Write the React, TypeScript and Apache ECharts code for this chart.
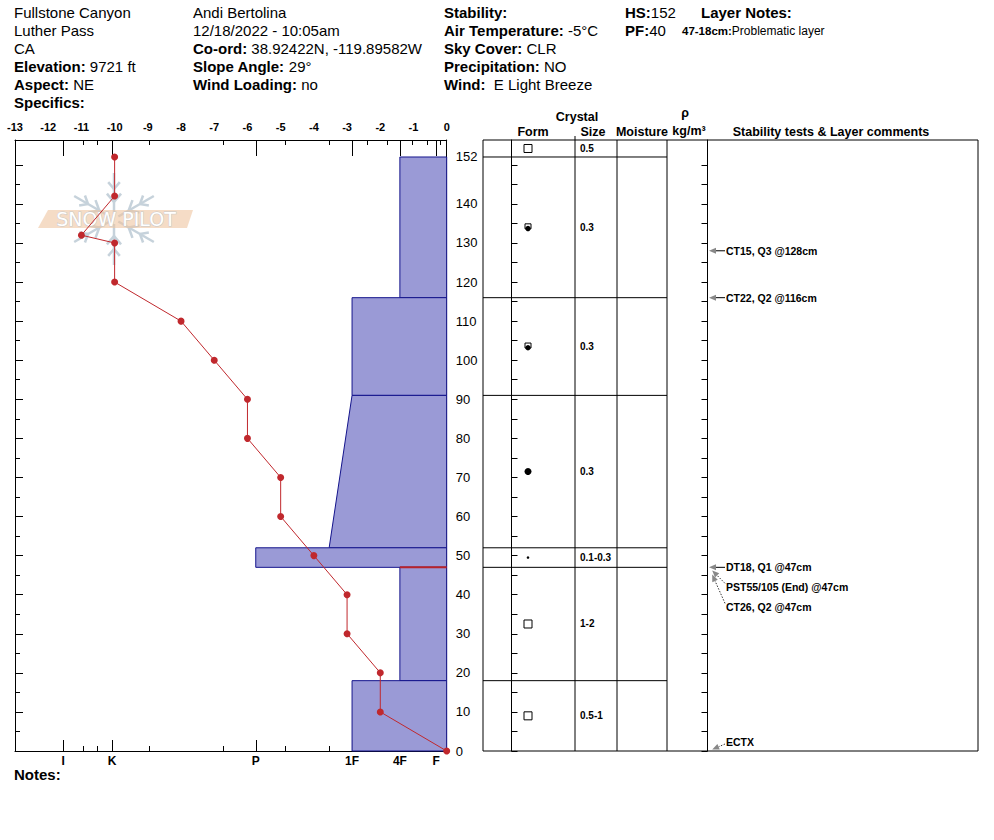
import React, { useEffect, useRef } from 'react';
import * as echarts from 'echarts';

// ---------------- data ----------------
const tempDepths = [152, 142, 132, 130, 120, 110, 100, 90, 80, 70, 60, 50, 40, 30, 20, 10, 0];
const tempValues = [-10, -10, -11, -10, -10, -8, -7, -6, -6, -5, -5, -4, -3, -3, -2, -2, 0];

const hardnessCodes = ['F-', 'F', 'F+', '4F-', '4F', '4F+', '1F-', '1F', '1F+', 'P-', 'P', 'P+', 'K-', 'K', 'K+', 'I-', 'I'];
const hardnessPositions = [-0.2, -0.32, -0.59, -1.04, -1.41, -1.8, -2.4, -2.85, -3.54, -4.85, -5.75, -6.74, -8.96, -10.08, -10.53, -10.95, -11.55];
const hardnessLabels = ['I', 'K', 'P', '1F', '4F', 'F'];

const layerTops = [152, 116, 91, 52, 47, 18];
const layerBottoms = [116, 91, 52, 47, 18, 0];
const layerHardTop = ['4F', '1F', '1F', 'P', '4F', '1F'];
const layerHardBottom = ['4F', '1F', '1F+', 'P', '4F', '1F'];
const layerForms = ['RGxf', 'RGxf', 'RG', 'dot', 'FC', 'FC'];
const layerSizes = ['0.3', '0.3', '0.3', '0.1-0.3', '1-2', '0.5-1'];
const surfaceForm = 'FC';
const surfaceSize = '0.5';
const problemLayerTop = 47;

const testDepths = [128, 116, 47, 47, 47, 0];
const testLabels = ['CT15, Q3 @128cm', 'CT22, Q2 @116cm', 'DT18, Q1 @47cm', 'PST55/105 (End) @47cm', 'CT26, Q2 @47cm', 'ECTX'];

const depthLabelValues = [0, 10, 20, 30, 40, 50, 60, 70, 80, 90, 100, 110, 120, 130, 140, 152];
const depthTickTens = [0, 10, 20, 30, 40, 50, 60, 70, 80, 90, 100, 110, 120, 130, 140, 150];
const depthTickFives = [0, 5, 10, 15, 20, 25, 30, 35, 40, 45, 50, 55, 60, 65, 70, 75, 80, 85, 90, 95, 100, 105, 110, 115, 120, 125, 130, 135, 140, 145, 150];
const HS = 152;

// ---------------- layout ----------------
const F = 'Arial, "Liberation Sans", Helvetica, sans-serif';
const YMAX = 156.35;
const PX_PER_CM = 611 / YMAX;
const TABLE_W = 495;

const hp = (code: string) => hardnessPositions[hardnessCodes.indexOf(code)];
const longTicks = hardnessLabels.map(hp);
const shortTicks = hardnessPositions.filter((v) => longTicks.indexOf(v) < 0);

function buildOption() {
  const hdr = (x: number, y: number, text: string, size = 15) => ({
    type: 'text',
    x,
    y,
    z: 5,
    style: {
      text,
      fill: '#000',
      fontSize: size,
      fontFamily: F,
      verticalAlign: 'middle',
      align: 'left',
      rich: {
        b: { fontSize: size, fontFamily: F, fontWeight: 'bold', fill: '#000' },
        s: { fontSize: 11.5, fontFamily: F, fontWeight: 'bold', fill: '#000' },
        t: { fontSize: 12, fontFamily: F, fill: '#000' },
      },
    },
  });
  const th = (x: number, y: number, text: string) => ({
    type: 'text',
    x,
    y,
    z: 5,
    style: { text, fill: '#000', fontSize: 12.5, fontWeight: 'bold', fontFamily: F, align: 'center', verticalAlign: 'middle' },
  });

  const col1 = ['Fullstone Canyon', 'Luther Pass', 'CA', '{b|Elevation:} 9721 ft', '{b|Aspect:} NE', '{b|Specifics:}'];
  const col2 = ['Andi Bertolina', '12/18/2022 - 10:05am', '{b|Co-ord:} 38.92422N, -119.89582W', '{b|Slope Angle:} 29°', '{b|Wind Loading:} no'];
  const col3 = ['{b|Stability:}', '{b|Air Temperature:} -5°C', '{b|Sky Cover:} CLR', '{b|Precipitation:} NO', '{b|Wind:}  E Light Breeze'];
  const headerEls: any[] = [];
  col1.forEach((t, i) => headerEls.push(hdr(14, 12.5 + 18 * i, t)));
  col2.forEach((t, i) => headerEls.push(hdr(193, 12.5 + 18 * i, t)));
  col3.forEach((t, i) => headerEls.push(hdr(444, 12.5 + 18 * i, t)));
  headerEls.push(hdr(625, 12.5, '{b|HS:}' + HS));
  headerEls.push(hdr(625, 30.5, '{b|PF:}40'));
  headerEls.push(hdr(701, 12.5, '{b|Layer Notes:}'));
  headerEls.push(hdr(682, 30.5, '{s|47-18cm:}{t|Problematic layer}'));
  headerEls.push(hdr(14, 774, '{b|Notes:}'));

  headerEls.push(th(577, 117, 'Crystal'));
  headerEls.push(th(533, 132, 'Form'));
  headerEls.push(th(593, 132, 'Size'));
  headerEls.push(th(642, 132, 'Moisture'));
  headerEls.push(th(685, 113, 'ρ'));
  headerEls.push(th(689, 131, 'kg/m³'));
  headerEls.push(th(831, 132, 'Stability tests & Layer comments'));

  // Snow Pilot logo
  const cx = 114, cy = 219;
  const flake: any[] = [];
  const flakeStyle = { stroke: '#c6d2db', lineWidth: 2.5 };
  [90, 30, -30, -90, 150, 210].forEach((a) => {
    const r = (a * Math.PI) / 180;
    const dx = Math.cos(r), dy = -Math.sin(r);
    flake.push({ type: 'line', z: 0, shape: { x1: cx + dx * 5, y1: cy + dy * 5, x2: cx + dx * 46, y2: cy + dy * 46 }, style: flakeStyle });
    [[17, 11], [30, 9]].forEach(([d, len]) => {
      [40, -40].forEach((b) => {
        const rb = ((a + b) * Math.PI) / 180;
        const px = cx + dx * d, py = cy + dy * d;
        flake.push({ type: 'line', z: 0, shape: { x1: px, y1: py, x2: px + Math.cos(rb) * len, y2: py - Math.sin(rb) * len }, style: flakeStyle });
      });
    });
  });
  const logo = [
    ...flake,
    { type: 'polygon', z: 0, shape: { points: [[48, 210], [193, 210], [187, 228], [38, 228]] }, style: { fill: 'rgba(238,196,160,0.6)' } },
    {
      type: 'text', z: 0, x: 116, y: 219,
      style: { text: 'SNOW PILOT', fontSize: 19, fontFamily: 'DejaVu Sans', fill: '#ffffff', stroke: '#c8c8c8', lineWidth: 1, align: 'center', verticalAlign: 'middle' },
    },
  ];

  const probIdx = layerTops.indexOf(problemLayerTop);

  // comment label stacking (in depth units)
  const gap = 20 / PX_PER_CM;
  let prev = Infinity;
  const labelDepths = testDepths.map((d) => {
    const l = Math.max(Math.min(d, prev - gap), 9 / PX_PER_CM);
    prev = l;
    return l;
  });

  const black = { color: '#000', width: 1 };
  const axisBase = { type: 'value', min: -13, max: 0, splitLine: { show: false } };
  const yBase = { type: 'value', min: 0, max: YMAX, splitLine: { show: false } };
  const lineOn = { show: true, onZero: false, lineStyle: black };
  const lineOff = { show: false, onZero: false };

  return {
    animation: false,
    backgroundColor: '#fff',
    graphic: { elements: [...logo, ...headerEls] },
    grid: [
      { left: 15, top: 140, width: 431.7, height: 611, show: false },
      { left: 483, top: 140, width: TABLE_W, height: 611, show: true, borderColor: '#000', borderWidth: 1, backgroundColor: 'transparent' },
    ],
    xAxis: [
      {
        ...axisBase, gridIndex: 0, position: 'top', interval: 1,
        axisLine: lineOn, axisTick: { show: false },
        axisLabel: { color: '#000', fontSize: 11, fontWeight: 'bold', fontFamily: F, margin: 8 },
      },
      {
        ...axisBase, gridIndex: 0, position: 'top',
        axisLine: lineOff, axisLabel: { show: false },
        axisTick: { show: true, inside: true, length: 16, customValues: longTicks, lineStyle: black },
      },
      {
        ...axisBase, gridIndex: 0, position: 'top',
        axisLine: lineOff, axisLabel: { show: false },
        axisTick: { show: true, inside: true, length: 5, customValues: shortTicks, lineStyle: black },
      },
      {
        ...axisBase, gridIndex: 0, position: 'bottom',
        axisLine: lineOn,
        axisTick: { show: true, inside: true, length: 11, customValues: longTicks, lineStyle: black },
        axisLabel: {
          customValues: longTicks, color: '#000', fontSize: 12, fontWeight: 'bold', fontFamily: F, margin: 4,
          formatter: (v: number) => {
            let best = 0;
            longTicks.forEach((t, i) => { if (Math.abs(t - v) < Math.abs(longTicks[best] - v)) best = i; });
            return hardnessLabels[best];
          },
        },
      },
      {
        ...axisBase, gridIndex: 0, position: 'bottom',
        axisLine: lineOff, axisLabel: { show: false },
        axisTick: { show: true, inside: true, length: 5, customValues: shortTicks, lineStyle: black },
      },
      { type: 'value', gridIndex: 1, min: 0, max: TABLE_W, show: false },
    ],
    yAxis: [
      {
        ...yBase, gridIndex: 0, position: 'left',
        axisLine: lineOn, axisLabel: { show: false },
        axisTick: { show: true, inside: true, length: 8, customValues: depthTickTens, lineStyle: black },
      },
      {
        ...yBase, gridIndex: 0, position: 'right',
        axisLine: lineOn,
        axisTick: { show: true, inside: true, length: 6, customValues: depthTickFives, lineStyle: black },
        axisLabel: { customValues: depthLabelValues, color: '#000', fontSize: 13, fontFamily: F, margin: 9 },
      },
      {
        ...yBase, gridIndex: 1, position: 'left', offset: -28.5,
        axisLine: lineOn, axisLabel: { show: false },
        axisTick: { show: true, inside: true, length: 6, customValues: depthTickFives, lineStyle: black },
      },
      {
        ...yBase, gridIndex: 1, position: 'right', offset: -270.5,
        axisLine: lineOn, axisLabel: { show: false },
        axisTick: { show: true, inside: true, length: 6, customValues: depthTickFives, lineStyle: black },
      },
      {
        ...yBase, gridIndex: 0, position: 'left',
        axisLine: lineOff, axisLabel: { show: false },
        axisTick: { show: true, inside: true, length: 5, customValues: depthTickFives, lineStyle: black },
      },
    ],
    series: [
      {
        type: 'custom', name: 'hardness', xAxisIndex: 0, yAxisIndex: 0, z: 1, silent: true,
        data: layerTops.map((t, i) => [hp(layerHardTop[i]), t, hp(layerHardBottom[i]), layerBottoms[i]]),
        encode: { x: [0, 2], y: [1, 3] },
        renderItem: (_p: any, api: any) => {
          const a = api.coord([0, api.value(1)]);
          const b = api.coord([api.value(0), api.value(1)]);
          const c = api.coord([api.value(2), api.value(3)]);
          const d = api.coord([0, api.value(3)]);
          return { type: 'polygon', shape: { points: [a, b, c, d] }, style: { fill: '#9a9ad6', stroke: '#14148c', lineWidth: 1 } };
        },
      },
      {
        type: 'line', name: 'problem', xAxisIndex: 0, yAxisIndex: 0, z: 2, silent: true, symbol: 'none',
        data: [[hp(layerHardTop[probIdx]), problemLayerTop], [0, problemLayerTop]],
        lineStyle: { color: '#b8232a', width: 2 },
      },
      {
        type: 'line', name: 'temperature', xAxisIndex: 0, yAxisIndex: 0, z: 3, silent: true,
        data: tempValues.map((t, i) => [t, tempDepths[i]]),
        symbol: 'circle', symbolSize: 7,
        lineStyle: { color: '#c0282d', width: 1 },
        itemStyle: { color: '#c0282d' },
      },
      {
        type: 'custom', name: 'rows', xAxisIndex: 5, yAxisIndex: 2, z: 2, silent: true,
        data: layerTops.map((t) => [0, t]),
        renderItem: (_p: any, api: any) => {
          const a = api.coord([0, api.value(1)]);
          const b = api.coord([184, api.value(1)]);
          return { type: 'line', shape: { x1: a[0], y1: a[1], x2: b[0], y2: b[1] }, style: { stroke: '#000', lineWidth: 1 } };
        },
      },
      {
        type: 'custom', name: 'cols', xAxisIndex: 5, yAxisIndex: 2, z: 2, silent: true,
        data: [[0, 0]],
        renderItem: (_p: any, api: any) => {
          const children = [92, 134, 184].map((x) => {
            const t = api.coord([x, YMAX]);
            const b = api.coord([x, 0]);
            return { type: 'line', shape: { x1: t[0], y1: t[1] - (x === 92 ? 4 : 0), x2: b[0], y2: b[1] }, style: { stroke: '#000', lineWidth: 1 } };
          });
          return { type: 'group', children };
        },
      },
      {
        type: 'custom', name: 'grains', xAxisIndex: 5, yAxisIndex: 2, z: 3, silent: true,
        data: [[45, (HS + YMAX) / 2, -1], ...layerTops.map((t, i) => [45, (t + layerBottoms[i]) / 2, i])],
        renderItem: (_p: any, api: any) => {
          const idx = api.value(2);
          const form = idx < 0 ? surfaceForm : layerForms[idx];
          const size = idx < 0 ? surfaceSize : layerSizes[idx];
          const p = api.coord([45, api.value(1)]);
          const s = api.coord([97, api.value(1)]);
          const children: any[] = [];
          if (form === 'FC') {
            children.push({ type: 'rect', shape: { x: p[0] - 4, y: p[1] - 4, width: 8, height: 8 }, style: { fill: '#fff', stroke: '#000', lineWidth: 1 } });
          } else if (form === 'RG') {
            children.push({ type: 'circle', shape: { cx: p[0], cy: p[1], r: 3.5 }, style: { fill: '#000' } });
          } else if (form === 'dot') {
            children.push({ type: 'circle', shape: { cx: p[0], cy: p[1], r: 1.3 }, style: { fill: '#000' } });
          } else {
            children.push({ type: 'rect', shape: { x: p[0] - 3, y: p[1] - 3.5, width: 6, height: 5 }, style: { fill: '#fff', stroke: '#000', lineWidth: 1 } });
            children.push({ type: 'circle', shape: { cx: p[0], cy: p[1] + 1.2, r: 2.7 }, style: { fill: '#000' } });
          }
          children.push({
            type: 'text', x: s[0], y: s[1],
            style: { text: size, fill: '#000', fontSize: 10, fontWeight: 'bold', fontFamily: F, align: 'left', verticalAlign: 'middle' },
          });
          return { type: 'group', children };
        },
      },
      {
        type: 'custom', name: 'tests', xAxisIndex: 5, yAxisIndex: 2, z: 3, silent: true,
        data: testDepths.map((d, i) => [226, d, labelDepths[i], i]),
        renderItem: (_p: any, api: any) => {
          const i = api.value(3);
          const tip = api.coord([226, api.value(1)]);
          const lab = api.coord([243, api.value(2)]);
          const children: any[] = [];
          children.push({
            type: 'text', x: lab[0], y: lab[1],
            style: { text: testLabels[i], fill: '#000', fontSize: 10.5, fontWeight: 'bold', fontFamily: F, align: 'left', verticalAlign: 'middle' },
          });
          let start: number[];
          let end: number[];
          let dash: any = null;
          if (Math.abs(lab[1] - tip[1]) < 1) {
            start = [lab[0] - 1, lab[1]];
            end = [tip[0], tip[1]];
          } else {
            start = [lab[0] - 1, lab[1] + (tip[1] > lab[1] ? 2 : -4)];
            end = [start[0] + (tip[0] - start[0]) * 0.8, start[1] + (tip[1] - start[1]) * 0.8];
            dash = [1.5, 1.5];
          }
          const vx = end[0] - start[0], vy = end[1] - start[1];
          const L = Math.sqrt(vx * vx + vy * vy) || 1;
          const ux = vx / L, uy = vy / L;
          const base = [end[0] - ux * 7, end[1] - uy * 7];
          const nx = -uy, ny = ux;
          children.push({
            type: 'line', shape: { x1: start[0], y1: start[1], x2: base[0], y2: base[1] },
            style: { stroke: '#000', lineWidth: dash ? 0.8 : 1, lineDash: dash },
          });
          children.push({
            type: 'polygon',
            shape: { points: [end, [base[0] + nx * 3, base[1] + ny * 3], [base[0] - nx * 3, base[1] - ny * 3]] },
            style: { fill: '#888' },
          });
          return { type: 'group', children };
        },
      },
    ],
  };
}

export default function App() {
  const ref = useRef<HTMLDivElement>(null);
  useEffect(() => {
    if (!ref.current) return;
    const chart = echarts.init(ref.current, null, { renderer: 'svg' });
    chart.setOption(buildOption() as any);
    return () => chart.dispose();
  }, []);
  return <div ref={ref} style={{ position: 'absolute', left: 0, top: 0, width: 994, height: 840 }} />;
}
